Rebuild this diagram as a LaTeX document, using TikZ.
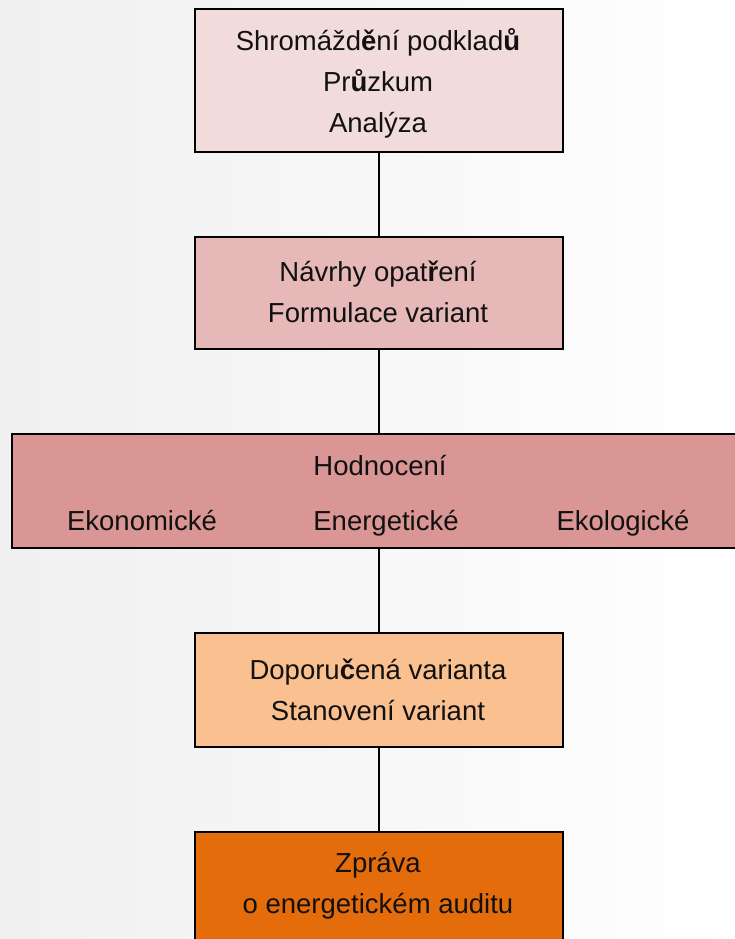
\documentclass[tikz,border=0pt]{standalone}
\usepackage{fontspec}
\setmainfont{Liberation Sans}
\definecolor{cA}{HTML}{F2DCDB}
\definecolor{cB}{HTML}{E6B9B8}
\definecolor{cC}{HTML}{D99694}
\definecolor{cD}{HTML}{FAC090}
\definecolor{cE}{HTML}{E46C0A}
\definecolor{txt}{HTML}{111111}
\begin{document}
\begin{tikzpicture}[x=1pt,y=-1pt,
  stagebox/.style={draw=black,line width=2.2pt,rectangle,inner sep=0pt,anchor=north west},
  lbl/.style={text=txt,font=\fontsize{27.5}{41}\selectfont,align=center,inner sep=0pt},
  word/.style={lbl,anchor=base},
  link/.style={draw=black,line width=1.6pt}]
\useasboundingbox (0,0) rectangle (735,939);
\clip (0,0) rectangle (735,939);
\shade[left color=black!6,right color=white] (0,0) rectangle (735,939);
% boxes
\node[stagebox,fill=cA,minimum width=368pt,minimum height=143pt] (b1) at (194,8) {};
\node[stagebox,fill=cB,minimum width=368pt,minimum height=112pt] (b2) at (194,236) {};
\node[stagebox,fill=cC,minimum width=730pt,minimum height=114pt] (b3) at (11,433) {};
\node[stagebox,fill=cD,minimum width=368pt,minimum height=114pt] (b4) at (194,632) {};
\node[stagebox,fill=cE,minimum width=368pt,minimum height=140pt] (b5) at (194,831) {};
% connectors
\draw[link] (b1.south) -- (b2.north);
\draw[link] (b2.south) -- (b2.south |- b3.north);
\draw[link] (b4.north |- b3.south) -- (b4.north);
\draw[link] (b4.south) -- (b5.north);
% texts
\node[lbl] (t1) at (378,83) {Shromážd\textbf{ě}ní podklad\textbf{ů}\\Pr\textbf{ů}zkum\\Analýza};
\node[lbl] (t2) at (378,292) {Návrhy opat\textbf{ř}ení\\Formulace variant};
\node[word] (t3) at (380,475) {Hodnocení};
\node[word] (t3a) at (142,530) {Ekonomické};
\node[word] (t3b) at (386,530) {Energetické};
\node[word] (t3c) at (623,530) {Ekologické};
\node[lbl] (t4) at (378,690) {Doporu\textbf{č}ená varianta\\Stanovení variant};
\node[lbl] (t5) at (378,886) {Zpráva\\o energetickém auditu};
\end{tikzpicture}
\end{document}
